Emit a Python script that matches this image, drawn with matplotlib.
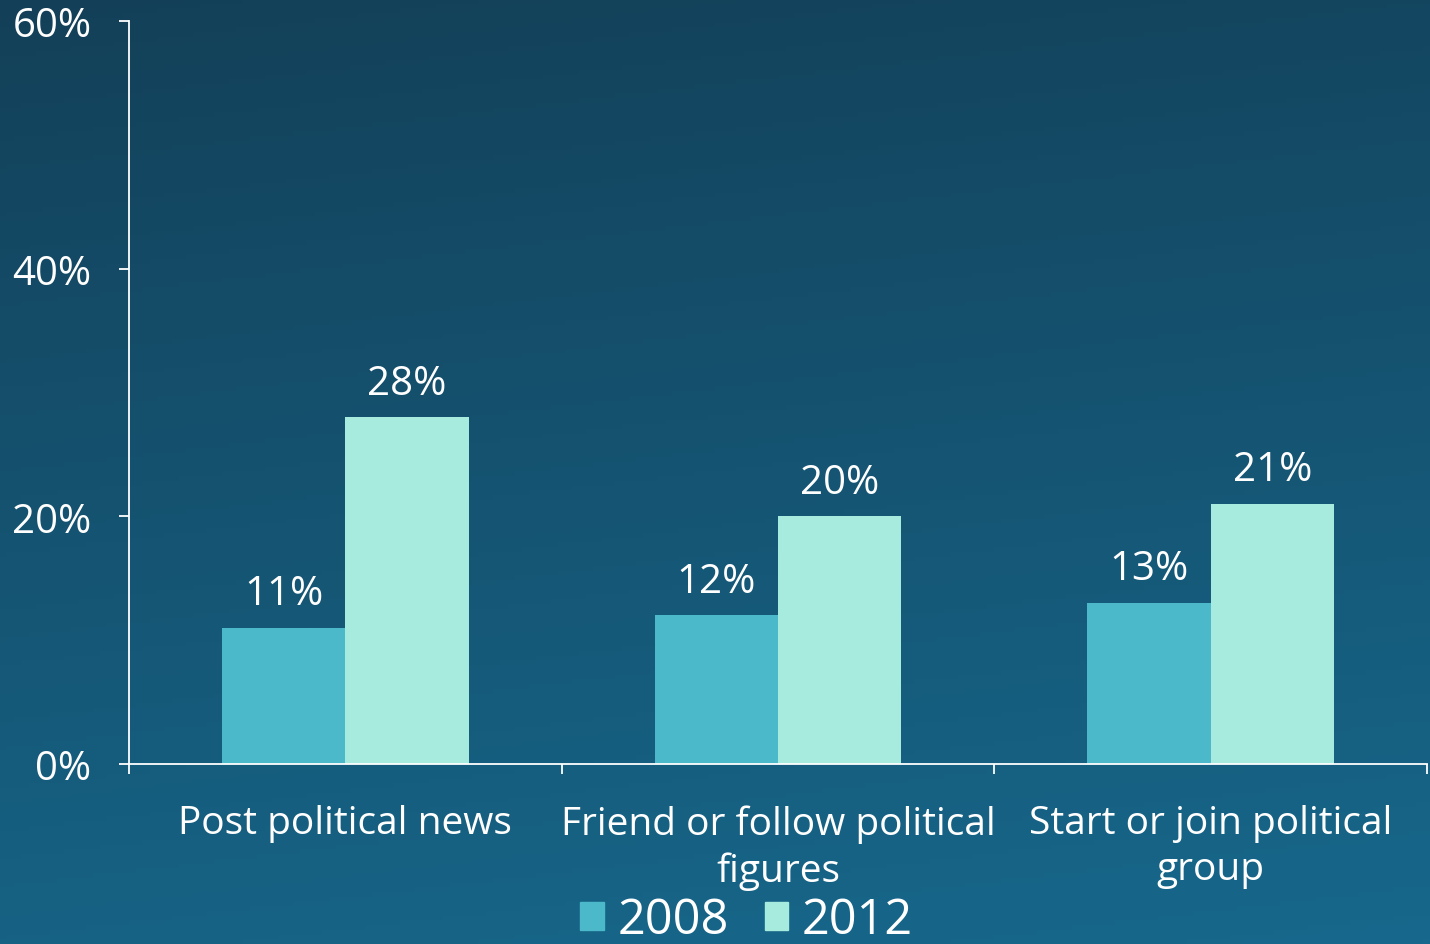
import numpy as np
import matplotlib.pyplot as plt
import matplotlib.transforms as mtransforms
from matplotlib.patches import Patch

categories = ['Post political news', 'Friend or follow political\nfigures',
              'Start or join political\ngroup']
years = ['2008', '2012']
values_2008 = [11, 12, 13]
values_2012 = [28, 20, 21]
yticks = [0, 20, 40, 60]

c2008 = '#4BB9C9'
c2012 = '#A6EBDD'
plt.rcParams['font.family'] = ['Open Sans', 'DejaVu Sans']

fig = plt.figure(figsize=(14.3, 9.45), dpi=100)

# gradient backdrop, dark navy at the top to lighter blue at the bottom
bg = fig.add_axes([0, 0, 1, 1])
yy, xx = np.mgrid[0:1:200j, 0:1:200j]
t = np.clip(0.85 * yy + 0.15 * xx, 0, 1)
top = np.array([19, 64, 88]) / 255
bot = np.array([23, 104, 140]) / 255
img = top[None, None, :] * (1 - t[..., None]) + bot[None, None, :] * t[..., None]
bg.imshow(img, aspect='auto', extent=[0, 1, 1, 0])
bg.axis('off')

ax = fig.add_axes([0.0902, 0.1905, 0.9078, 0.7862])
ax.patch.set_alpha(0)

x = np.arange(len(categories)) + 0.5
w = 0.285
b1 = ax.bar(x - w / 2, values_2008, w, color=c2008, label=years[0], zorder=2)
b2 = ax.bar(x + w / 2, values_2012, w, color=c2012, label=years[1], zorder=2)

for bars, vals in ((b1, values_2008), (b2, values_2012)):
    for r, v in zip(bars, vals):
        ax.text(r.get_x() + r.get_width() / 2, v + 1.1, f'{v}%',
                ha='center', va='bottom', color='white', fontsize=29)

ax.set_xlim(0, 3)
ax.set_ylim(0, 60)
ax.set_yticks(yticks)
ax.set_yticklabels([f'{v}%' for v in yticks])
ax.set_xticks([0, 1, 2, 3])
ax.set_xticklabels([])
ax.set_xticks(x, minor=True)
ax.set_xticklabels(categories, minor=True)

for s in ('top', 'right'):
    ax.spines[s].set_visible(False)
for s in ('left', 'bottom'):
    ax.spines[s].set_color('white')
    ax.spines[s].set_linewidth(1.3)

ax.tick_params(axis='y', colors='white', labelsize=29, length=7, width=1.3, pad=20)
ax.tick_params(axis='x', which='major', colors='white', length=7, width=1.3)
ax.tick_params(axis='x', which='minor', colors='white', labelsize=28, length=0, pad=29)
for lbl in ax.get_xticklabels(minor=True):
    lbl.set_linespacing(1.28)
shift = mtransforms.ScaledTranslation(0, -5 / 100, fig.dpi_scale_trans)
for lbl in ax.get_yticklabels():
    lbl.set_va('center')
    lbl.set_transform(lbl.get_transform() + shift)

handles = [Patch(color=c2008), Patch(color=c2012)]
leg = fig.legend(handles, years, loc='center', bbox_to_anchor=(0.522, 0.025), ncol=2,
                 frameon=False, fontsize=35, handlelength=0.49, handleheight=0.49,
                 handletextpad=0.27, columnspacing=0.74, labelcolor='white')

fig.savefig('out.png', dpi=100)
